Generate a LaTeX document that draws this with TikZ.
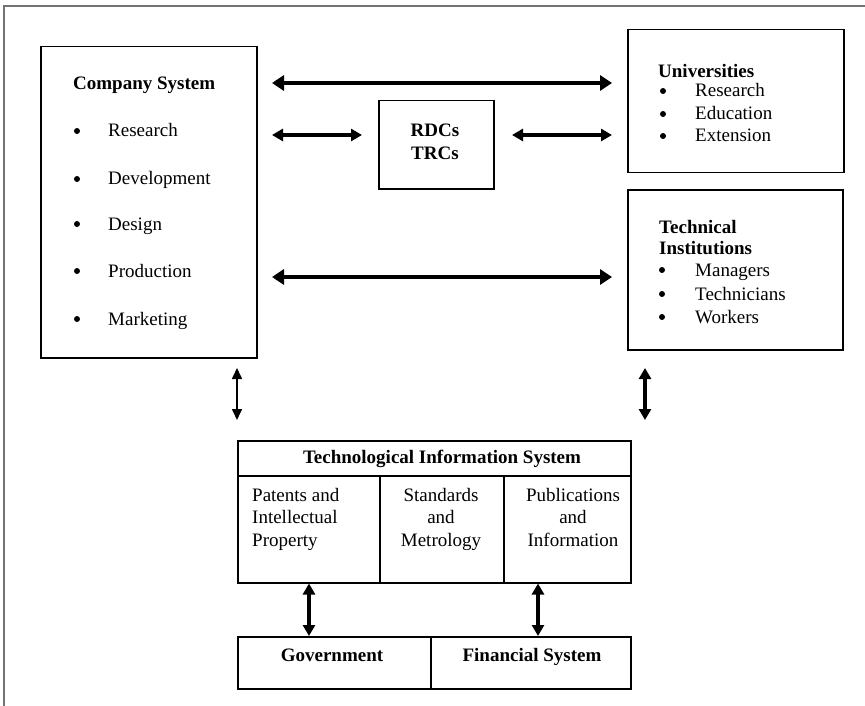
\documentclass[tikz,border=0pt]{standalone}
\usepackage{fontspec}
\setmainfont{Liberation Serif}
\usetikzlibrary{arrows.meta}
\newcommand\dfs{\fontsize{19}{22}\selectfont}
\begin{document}
\begin{tikzpicture}[x=1pt,y=-1pt,
  frameline/.style={draw=black!55, line width=1.2pt},
  box/.style={draw, line width=1.5pt, inner sep=0pt, anchor=north west},
  txt/.style={inner sep=0pt, font=\dfs},
  btxt/.style={inner sep=0pt, font=\dfs\bfseries},
  bul/.style={circle, fill, inner sep=0pt, minimum size=6pt},
  bigarr/.style={line width=4.5pt, {Triangle[length=12pt,width=15pt]}-{Triangle[length=12pt,width=15pt]}},
  dbl/.style={line width=3.2pt, {Triangle[length=11pt,width=12pt]}-{Triangle[length=11pt,width=12pt]}},
  thinarr/.style={line width=1.6pt, {Triangle[length=11pt,width=10pt]}-{Triangle[length=11pt,width=10pt]}},
]
\useasboundingbox (0,0) rectangle (865,706);
\draw[frameline] (4,706) -- (4,6) -- (865,6);

% boxes
\node[box, minimum width=216pt, minimum height=311pt] (cs) at (40,46) {};
\node[box, minimum width=216pt, minimum height=143pt] (uni) at (627,29) {};
\node[box, minimum width=215pt, minimum height=160pt] (ti) at (627,189) {};
\node[box, minimum width=115pt, minimum height=88pt] (rdc) at (378,100) {};
\node[box, minimum width=393pt, minimum height=35pt] (tish) at (237,440) {};
\node[box, minimum width=142pt, minimum height=107pt] (tc1) at (237,475) {};
\node[box, minimum width=124pt, minimum height=107pt] (tc2) at (379,475) {};
\node[box, minimum width=127pt, minimum height=107pt] (tc3) at (503,475) {};
\node[box, minimum width=193pt, minimum height=52pt] (gov) at (237,636) {};
\node[box, minimum width=200pt, minimum height=52pt] (fin) at (430,636) {};

% Company System
\node[btxt, anchor=base west] (cst) at (73,90) {Company System};
\node[bul] (cb1) at (77,131) {};
\node[txt, anchor=base west] (ci1) at (108,137) {Research};
\node[bul] (cb2) at (77,179) {};
\node[txt, anchor=base west] (ci2) at (108,185) {Development};
\node[bul] (cb3) at (77,224) {};
\node[txt, anchor=base west] (ci3) at (108,230) {Design};
\node[bul] (cb4) at (77,271) {};
\node[txt, anchor=base west] (ci4) at (108,277) {Production};
\node[bul] (cb5) at (77,319) {};
\node[txt, anchor=base west] (ci5) at (108,325) {Marketing};

% Universities
\node[btxt, anchor=base west] (unt) at (658,78) {Universities};
\node[bul] (ub1) at (663,91) {};
\node[txt, anchor=base west] (ui1) at (695,97) {Research};
\node[bul] (ub2) at (663,114) {};
\node[txt, anchor=base west] (ui2) at (695,120) {Education};
\node[bul] (ub3) at (663,136) {};
\node[txt, anchor=base west] (ui3) at (695,142) {Extension};

% Technical Institutions
\node[btxt, anchor=base west] (tit1) at (659,233) {Technical};
\node[btxt, anchor=base west] (tit2) at (659,254) {Institutions};
\node[bul] (tb1) at (662,270) {};
\node[txt, anchor=base west] (tii1) at (695,276) {Managers};
\node[bul] (tb2) at (662,294) {};
\node[txt, anchor=base west] (tii2) at (695,300) {Technicians};
\node[bul] (tb3) at (662,317) {};
\node[txt, anchor=base west] (tii3) at (695,323) {Workers};

% RDCs
\node[btxt, anchor=base] (rdct1) at (435,137) {RDCs};
\node[btxt, anchor=base] (rdct2) at (435,160) {TRCs};

% Technological Information System
\node[btxt, anchor=base] (tist) at (442,463) {Technological Information System};
\node[txt, anchor=base west] (p1) at (252,501) {Patents and};
\node[txt, anchor=base west] (p2) at (252,523) {Intellectual};
\node[txt, anchor=base west] (p3) at (252,546) {Property};
\node[txt, anchor=base] (s1) at (441,501) {Standards};
\node[txt, anchor=base] (s2) at (441,523) {and};
\node[txt, anchor=base] (s3) at (441,546) {Metrology};
\node[txt, anchor=base] (u1) at (573,501) {Publications};
\node[txt, anchor=base] (u2) at (573,523) {and};
\node[txt, anchor=base] (u3) at (573,546) {Information};

% bottom row
\node[btxt, anchor=base] (govt) at (332,661) {Government};
\node[btxt, anchor=base] (fint) at (532,661) {Financial System};

% connectors
\coordinate (a1l) at (272,83);  \coordinate (a1r) at (612,83);
\coordinate (a2l) at (272,135); \coordinate (a2r) at (362,135);
\coordinate (a3l) at (512,135); \coordinate (a3r) at (612,135);
\coordinate (a4l) at (272,277); \coordinate (a4r) at (612,277);
\coordinate (v1t) at (237,368); \coordinate (v1b) at (237,420);
\coordinate (v2t) at (645,368); \coordinate (v2b) at (645,420);
\coordinate (gx) at (309,0);    \coordinate (fx) at (538,0);
\draw[bigarr] (a1l) -- (a1r);
\draw[dbl] (a2l) -- (a2r);
\draw[dbl] (a3l) -- (a3r);
\draw[bigarr] (a4l) -- (a4r);
\draw[thinarr] (v1t) -- (v1b);
\draw[dbl] (v2t) -- (v2b);
\draw[dbl] (tc1.south -| gx) -- (gov.north -| gx);
\draw[dbl] (tc3.south -| fx) -- (fin.north -| fx);
\end{tikzpicture}
\end{document}
